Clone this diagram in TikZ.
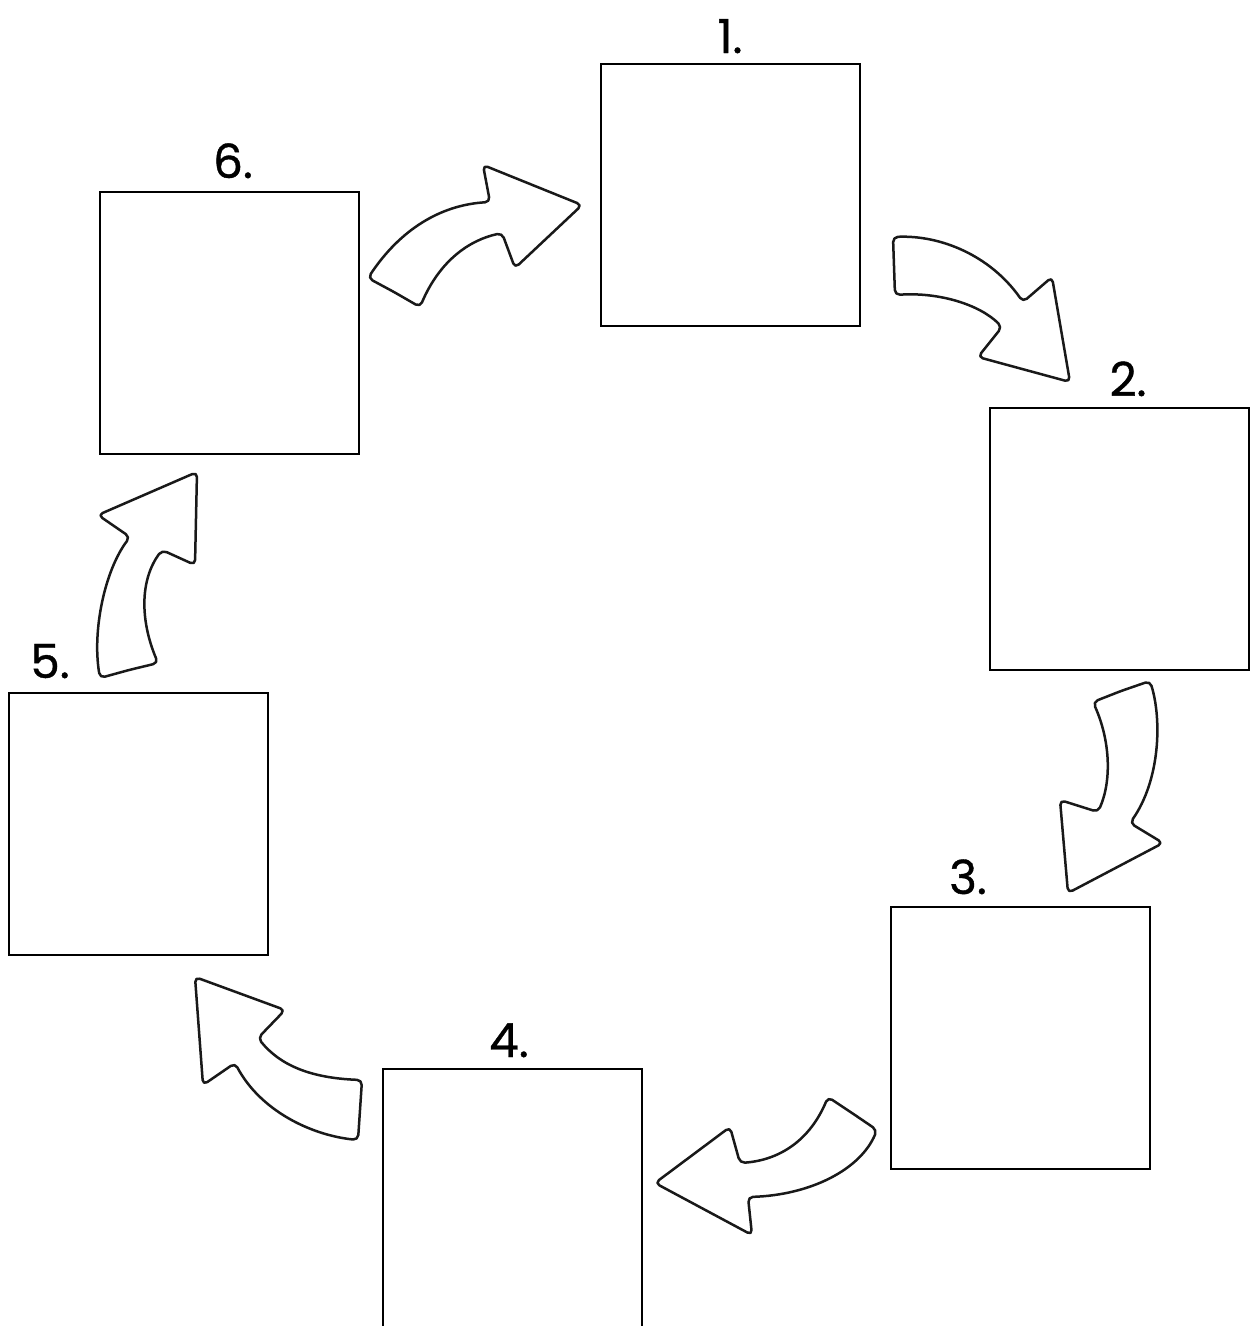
\documentclass[tikz,border=0pt]{standalone}
\usepackage{fontspec}
\setmainfont{Poppins}
\newfontfamily\lblfont[FakeBold=0.8]{Poppins}
\begin{document}
\begin{tikzpicture}[x=1pt,y=-1pt,
  box/.style={draw=black,line width=2.4pt,minimum width=259pt,minimum height=262pt,inner sep=0pt,outer sep=0pt,anchor=north west},
  lbl/.style={font=\lblfont\fontsize{47}{47}\selectfont,inner sep=0pt,anchor=base},
  blockarrow/.style={draw=black!90,line width=2.5pt,fill=white,rounded corners=5pt,line join=round}]
\useasboundingbox (0,0) rectangle (1257,1326);
\clip (0,0) rectangle (1257,1326);
\fill[white] (0,0) rectangle (1257,1326);
% squares
\node[box] (s1) at (601,64) {};
\node[box] (s2) at (990,408) {};
\node[box] (s3) at (891,907) {};
\node[box,minimum height=290pt] (s4) at (383,1069) {};
\node[box] (s5) at (9,693) {};
\node[box] (s6) at (100,192) {};
% labels
\node[lbl] (l1) at (730,53) {1.};
\node[lbl] (l2) at (1128,396) {2.};
\node[lbl] (l3) at (968,894) {3.};
\node[lbl] (l4) at (509,1057) {4.};
\node[lbl] (l5) at (50,678) {5.};
\node[lbl] (l6) at (233,178) {6.};
% block arrows
% 6 -> 1
\draw[blockarrow] (394,292) -- (420,307) .. controls (440,260) and (470,240) .. (502,233)
  -- (515,268) -- (582,205) -- (483,165) -- (490,202)
  .. controls (440,205) and (400,230) .. (368,278) -- cycle;
% 1 -> 2
\draw[blockarrow] (894,266) -- (895,295) .. controls (940,292) and (980,305) .. (1002,327)
  -- (978,357) -- (1070,382) -- (1052,277) -- (1023,302)
  .. controls (990,255) and (940,235) .. (893,237) -- cycle;
% 2 -> 3
\draw[blockarrow] (1121,691) -- (1093,702) .. controls (1110,740) and (1112,780) .. (1098,812)
  -- (1060,800) -- (1068,893) -- (1163,843) -- (1130,823)
  .. controls (1160,780) and (1162,720) .. (1150,681) -- cycle;
% 3 -> 4
\draw[blockarrow] (852,1113) -- (828,1097) .. controls (810,1140) and (780,1160) .. (740,1163)
  -- (730,1127) -- (655,1183) -- (752,1235) -- (748,1197)
  .. controls (810,1195) and (860,1170) .. (877,1130) -- cycle;
% 4 -> 5
\draw[blockarrow] (360,1110) -- (362,1080) .. controls (310,1078) and (280,1065) .. (258,1038)
  -- (285,1010) -- (195,977) -- (203,1085) -- (235,1063)
  .. controls (260,1110) and (310,1135) .. (358,1140) -- cycle;
% 5 -> 6
\draw[blockarrow] (129,670) -- (158,663) .. controls (140,620) and (140,580) .. (162,550)
  -- (195,565) -- (197,472) -- (98,515) -- (130,537)
  .. controls (105,570) and (92,630) .. (100,678) -- cycle;
\end{tikzpicture}
\end{document}
